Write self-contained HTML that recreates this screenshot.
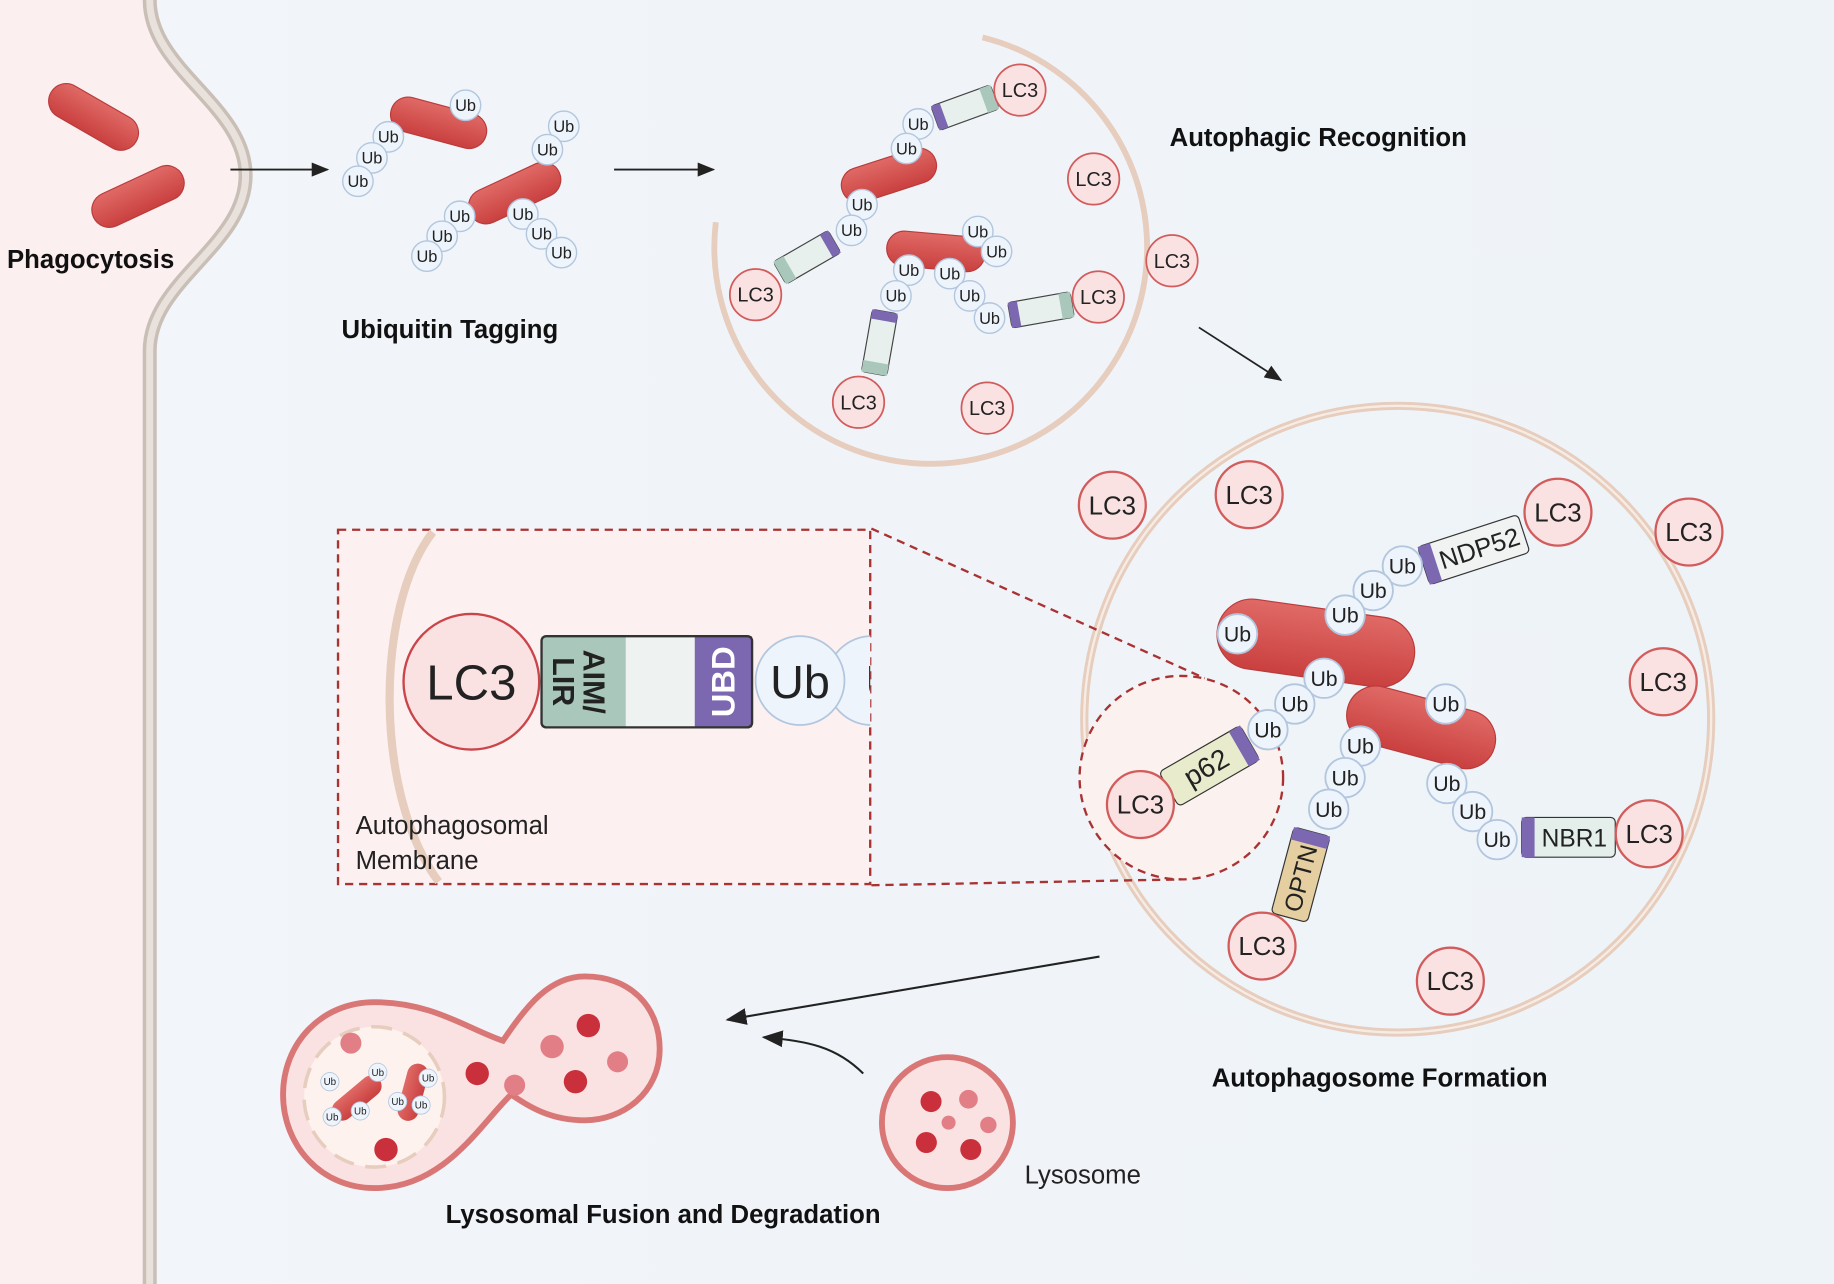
<!DOCTYPE html>
<html><head><meta charset="utf-8"><style>
html,body{margin:0;padding:0;background:#eef3f8}
svg{display:block}
text{font-family:"Liberation Sans",sans-serif}
.t{font-weight:bold;font-size:22px;fill:#111}
.ub{font-size:14px;fill:#222}
.lc{font-size:17px;fill:#222}
</style></head><body>
<svg width="1834" height="1284" viewBox="0 0 1568 1098" preserveAspectRatio="none" xmlns="http://www.w3.org/2000/svg">
<defs>
<linearGradient id="bg" x1="0" x2="1"><stop offset="0" stop-color="#f2f5f9"/><stop offset="1" stop-color="#eef3f8"/></linearGradient>
<linearGradient id="bac" x1="0" y1="0" x2="0" y2="1"><stop offset="0" stop-color="#e06a66"/><stop offset="1" stop-color="#c9403f"/></linearGradient>
<g id="ub"><circle r="13" fill="#eef4fb" stroke="#b2c6de" stroke-width="1.2"/><text class="ub" text-anchor="middle" y="5">Ub</text></g>
<g id="lc3"><circle r="22" fill="#fbe2e2" stroke="#d25b5b" stroke-width="1.5"/><text class="lc" text-anchor="middle" y="6">LC3</text></g>
<g id="bact"><rect x="-42" y="-15" width="84" height="30" rx="15" fill="url(#bac)" stroke="#b93b3b"/></g>
<g id="adp"><rect x="-27" y="-11" width="54" height="22" rx="3" fill="#e8f0ee" stroke="#444"/><rect x="-27" y="-11" width="8" height="22" fill="#7b68b0"/><rect x="17" y="-11" width="10" height="22" fill="#a9c8bb"/></g>
<marker id="ar" markerWidth="10" markerHeight="10" refX="9" refY="5" orient="auto"><path d="M0,1 L10,5 L0,9 z" fill="#222"/></marker>
</defs>
<rect width="1568" height="1098" fill="url(#bg)"/>
<path d="M0,0 L128,0 C128,60 210,90 210,150 C210,210 128,240 128,300 L128,1098 L0,1098 Z" fill="#fcefef"/>
<path d="M128,0 C128,60 210,90 210,150 C210,210 128,240 128,300 L128,1098" fill="none" stroke="#c9bfb6" stroke-width="12"/>
<path d="M128,0 C128,60 210,90 210,150 C210,210 128,240 128,300 L128,1098" fill="none" stroke="#e9e2dc" stroke-width="6"/>
<use href="#bact" transform="translate(80,100) rotate(30)"/>
<use href="#bact" transform="translate(118,168) rotate(-25)"/>
<text class="t" x="6" y="229">Phagocytosis</text>
<line x1="197" y1="145" x2="280" y2="145" stroke="#222" stroke-width="1.5" marker-end="url(#ar)"/>
<use href="#bact" transform="translate(375,105) rotate(15)"/>
<use href="#bact" transform="translate(440,165) rotate(-25)"/>
<use href="#ub" x="398" y="90"/><use href="#ub" x="332" y="117"/><use href="#ub" x="318" y="135"/><use href="#ub" x="306" y="155"/>
<use href="#ub" x="482" y="108"/><use href="#ub" x="468" y="128"/><use href="#ub" x="393" y="185"/><use href="#ub" x="378" y="202"/><use href="#ub" x="365" y="219"/>
<use href="#ub" x="447" y="183"/><use href="#ub" x="463" y="200"/><use href="#ub" x="480" y="216"/>
<text class="t" x="292" y="289">Ubiquitin Tagging</text>
<line x1="525" y1="145" x2="610" y2="145" stroke="#222" stroke-width="1.5" marker-end="url(#ar)"/>
<path d="M840,32 A185,185 0 1 1 612,190" fill="none" stroke="#e6cdbd" stroke-width="5"/>
<use href="#bact" transform="translate(760,150) rotate(-18)"/>
<use href="#bact" transform="translate(800,215) rotate(5)"/>
<use href="#adp" transform="translate(825,92) rotate(-20)"/>
<use href="#adp" transform="translate(690,220) rotate(150)"/>
<use href="#adp" transform="translate(890,265) rotate(-10)"/>
<use href="#adp" transform="translate(752,293) rotate(100)"/>
<use href="#ub" x="785" y="106"/><use href="#ub" x="775" y="127"/><use href="#ub" x="737" y="175"/><use href="#ub" x="728" y="197"/>
<use href="#ub" x="836" y="198"/><use href="#ub" x="852" y="215"/><use href="#ub" x="777" y="231"/><use href="#ub" x="812" y="234"/>
<use href="#ub" x="766" y="253"/><use href="#ub" x="829" y="253"/><use href="#ub" x="846" y="272"/>
<use href="#lc3" x="872" y="77"/><use href="#lc3" x="935" y="153"/><use href="#lc3" x="1002" y="223"/><use href="#lc3" x="646" y="252"/>
<use href="#lc3" x="939" y="254"/><use href="#lc3" x="734" y="344"/><use href="#lc3" x="844" y="349"/>
<text class="t" x="1000" y="125">Autophagic Recognition</text>
<line x1="1025" y1="280" x2="1095" y2="325" stroke="#222" stroke-width="1.5" marker-end="url(#ar)"/>
<circle cx="1195" cy="615" r="268" fill="none" stroke="#e6cdbd" stroke-width="7"/>
<circle cx="1195" cy="615" r="268" fill="none" stroke="#f7ece4" stroke-width="2"/>
<circle cx="1010" cy="665" r="87" fill="#fbf1ee" stroke="#a93232" stroke-width="2" stroke-dasharray="7,5"/>
<rect x="1040" y="520" width="170" height="60" rx="30" fill="url(#bac)" stroke="#b93b3b" transform="rotate(8 1125 550)"/>
<rect x="1150" y="597" width="130" height="50" rx="25" fill="url(#bac)" stroke="#b93b3b" transform="rotate(15 1215 622)"/>
<g transform="translate(1260,470) rotate(-18)"><rect x="-45" y="-17" width="90" height="34" rx="4" fill="#f0f3f2" stroke="#333"/><rect x="-45" y="-17" width="11" height="34" fill="#7b68b0"/><text x="5" y="8" text-anchor="middle" font-size="22" fill="#222">NDP52</text></g>
<g transform="translate(1034,655) rotate(-30)"><rect x="-40" y="-17" width="80" height="34" rx="4" fill="#e8eccc" stroke="#333"/><rect x="29" y="-17" width="11" height="34" fill="#7b68b0"/><text x="-3" y="8" text-anchor="middle" font-size="24" fill="#222">p62</text></g>
<g transform="translate(1112,748) rotate(-75)"><rect x="-38" y="-16" width="76" height="32" rx="4" fill="#e5cfa0" stroke="#333"/><rect x="27" y="-16" width="11" height="32" fill="#7b68b0"/><text x="-3" y="8" text-anchor="middle" font-size="21" fill="#222">OPTN</text></g>
<g transform="translate(1341,716)"><rect x="-40" y="-17" width="80" height="34" rx="4" fill="#e4eeea" stroke="#333"/><rect x="-40" y="-17" width="11" height="34" fill="#7b68b0"/><text x="5" y="8" text-anchor="middle" font-size="21" fill="#222">NBR1</text></g>
<use href="#ub" transform="translate(1199,484) scale(1.3)"/><use href="#ub" transform="translate(1174,505) scale(1.3)"/><use href="#ub" transform="translate(1150,526) scale(1.3)"/>
<use href="#ub" transform="translate(1058,542) scale(1.3)"/><use href="#ub" transform="translate(1132,580) scale(1.3)"/><use href="#ub" transform="translate(1107,602) scale(1.3)"/><use href="#ub" transform="translate(1084,624) scale(1.3)"/>
<use href="#ub" transform="translate(1236,602) scale(1.3)"/><use href="#ub" transform="translate(1163,638) scale(1.3)"/><use href="#ub" transform="translate(1150,665) scale(1.3)"/><use href="#ub" transform="translate(1136,692) scale(1.3)"/>
<use href="#ub" transform="translate(1237,670) scale(1.3)"/><use href="#ub" transform="translate(1259,694) scale(1.3)"/><use href="#ub" transform="translate(1280,718) scale(1.3)"/>
<use href="#lc3" transform="translate(951,432) scale(1.3)"/><use href="#lc3" transform="translate(1068,423) scale(1.3)"/><use href="#lc3" transform="translate(1332,438) scale(1.3)"/><use href="#lc3" transform="translate(1444,455) scale(1.3)"/>
<use href="#lc3" transform="translate(1422,583) scale(1.3)"/><use href="#lc3" transform="translate(975,688) scale(1.3)"/><use href="#lc3" transform="translate(1410,713) scale(1.3)"/>
<use href="#lc3" transform="translate(1079,809) scale(1.3)"/><use href="#lc3" transform="translate(1240,839) scale(1.3)"/>
<text class="t" x="1036" y="929">Autophagosome Formation</text>
<line x1="745" y1="452" x2="1030" y2="580" stroke="#a93232" stroke-width="2" stroke-dasharray="7,5"/>
<line x1="745" y1="757" x2="1010" y2="752" stroke="#a93232" stroke-width="2" stroke-dasharray="7,5"/>
<rect x="289" y="453" width="455" height="303" fill="#fdf0f0" stroke="#a93232" stroke-width="2" stroke-dasharray="7,5"/>
<path d="M370,455 C320,520 320,680 375,754" fill="none" stroke="#e6cdbd" stroke-width="7"/>
<circle cx="403" cy="583" r="58" fill="#fbe2e2" stroke="#c9454a" stroke-width="2"/>
<text x="403" y="598" text-anchor="middle" font-size="42" fill="#222">LC3</text>
<rect x="463" y="544" width="180" height="78" rx="4" fill="#eef2f0"/>
<rect x="463" y="544" width="72" height="78" fill="#a9c8bb"/>
<rect x="594" y="544" width="49" height="78" fill="#7b68b0"/>
<rect x="463" y="544" width="180" height="78" rx="4" fill="none" stroke="#333" stroke-width="2"/>
<text transform="translate(495,583) rotate(90)" text-anchor="middle" font-size="26" font-weight="bold" fill="#222"><tspan x="0" y="-4">AIM/</tspan><tspan x="0" y="22">LIR</tspan></text>
<text transform="translate(618,583) rotate(-90)" text-anchor="middle" y="10" font-size="28" font-weight="bold" fill="#fff">UBD</text>
<clipPath id="cb"><rect x="289" y="453" width="455" height="303"/></clipPath>
<g clip-path="url(#cb)">
<circle cx="745" cy="582" r="38" fill="#eef4fb" stroke="#b2c6de" stroke-width="1.5"/>
<text x="740" y="597" font-size="40" fill="#222">U</text>
<circle cx="684" cy="582" r="38" fill="#eef4fb" stroke="#b2c6de" stroke-width="1.5"/>
<text x="684" y="597" text-anchor="middle" font-size="40" fill="#222">Ub</text>
</g>
<text x="304" y="713" font-size="22" fill="#222">Autophagosomal</text>
<text x="304" y="743" font-size="22" fill="#222">Membrane</text>
<path d="M940,818 L622,872" stroke="#222" stroke-width="1.8" fill="none" marker-end="url(#ar)"/>
<path d="M738,918 C715,895 690,890 653,887" stroke="#222" stroke-width="1.8" fill="none" marker-end="url(#ar)"/>
<circle cx="810" cy="960" r="56" fill="#fbe2e2" stroke="#d97777" stroke-width="5"/>
<g fill="#c9303c"><circle cx="796" cy="942" r="9"/><circle cx="828" cy="940" r="8" fill="#e27f86"/><circle cx="811" cy="960" r="6" fill="#e27f86"/><circle cx="792" cy="977" r="9"/><circle cx="830" cy="983" r="9"/><circle cx="845" cy="962" r="7" fill="#e27f86"/></g>
<text x="876" y="1012" font-size="22" fill="#222">Lysosome</text>
<path d="M320,857 C370,857 400,880 430,890 C450,860 470,835 500,835 C540,835 564,862 564,897 C564,935 532,958 500,958 C470,958 452,946 437,936 C410,962 380,1016 320,1016 C275,1016 242,980 242,936 C242,892 275,857 320,857 Z" fill="#fbe2e2" stroke="#d97777" stroke-width="5"/>
<circle cx="320" cy="938" r="60" fill="#fdf2ee" stroke="#e6cdbd" stroke-width="3" stroke-dasharray="18,10"/>
<rect x="280" y="930" width="50" height="18" rx="9" fill="url(#bac)" transform="rotate(-40 305 939)"/>
<rect x="328" y="925" width="50" height="18" rx="9" fill="url(#bac)" transform="rotate(-75 353 934)"/>
<g fill="#c9303c"><circle cx="300" cy="892" r="9" fill="#e27f86"/><circle cx="330" cy="983" r="10"/><circle cx="408" cy="918" r="10"/><circle cx="440" cy="928" r="9" fill="#e27f86"/><circle cx="472" cy="895" r="10" fill="#e27f86"/><circle cx="503" cy="877" r="10"/><circle cx="492" cy="925" r="10"/><circle cx="528" cy="908" r="9" fill="#e27f86"/></g>
<use href="#ub" transform="translate(282,925) scale(0.6)"/><use href="#ub" transform="translate(323,917) scale(0.6)"/><use href="#ub" transform="translate(366,922) scale(0.6)"/><use href="#ub" transform="translate(284,955) scale(0.6)"/><use href="#ub" transform="translate(340,942) scale(0.6)"/><use href="#ub" transform="translate(360,945) scale(0.6)"/><use href="#ub" transform="translate(308,950) scale(0.6)"/>
<text class="t" x="381" y="1046">Lysosomal Fusion and Degradation</text>
</svg>
</body></html>
